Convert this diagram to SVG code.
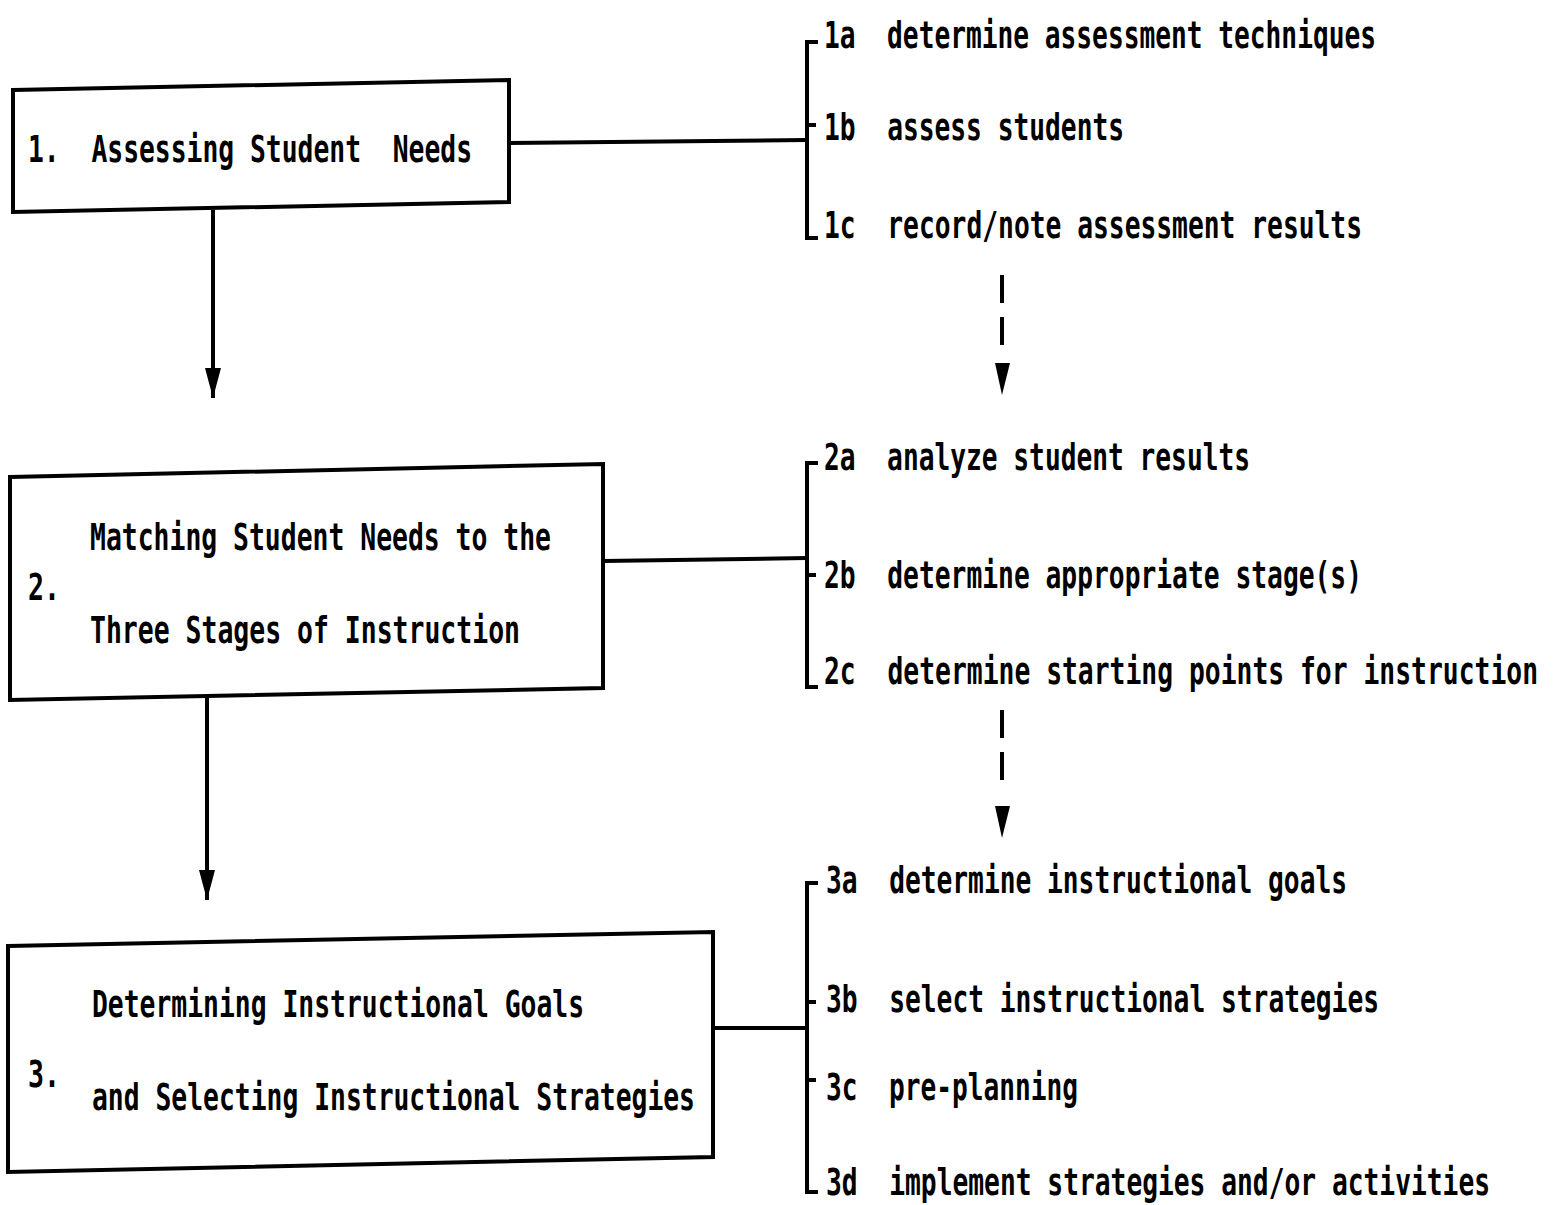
<svg xmlns="http://www.w3.org/2000/svg" width="1557" height="1205" viewBox="0 0 1557 1205" xml:space="preserve">
  <style>
    .box { fill: none; stroke: #000; stroke-width: 4; stroke-linejoin: miter; }
    .ln { fill: none; stroke: #000; stroke-width: 4; }
    .br { fill: none; stroke: #000; stroke-width: 4; }
    .dash { fill: none; stroke: #000; stroke-width: 4; stroke-dasharray: 28 14; }
    .t { font-family: "DejaVu Sans Mono", "Liberation Mono", monospace; font-weight: bold; font-size: 38px; fill: #000; white-space: pre; }
  </style>
  <defs>
    <!-- narrow solid arrowhead, drawn pointing along +x -->
    <marker id="head" viewBox="0 0 30 16" refX="30" refY="8" markerWidth="30" markerHeight="16" markerUnits="userSpaceOnUse" orient="auto">
      <path d="M0,0 L30,8 L0,16 Z" fill="#000"/>
    </marker>
  </defs>
  <rect width="1557" height="1205" fill="#fff"/>

  <!-- main stages -->
  <g id="stage1">
    <polygon class="box" points="13,90 509,80 509,202 13,212"/>
    <text class="t" x="28" y="162" textLength="444" lengthAdjust="spacingAndGlyphs">1.  Assessing Student  Needs</text>
  </g>
  <g id="stage2">
    <polygon class="box" points="10,477 603,464 603,688 10,700"/>
    <text class="t" x="28" y="600" textLength="32" lengthAdjust="spacingAndGlyphs">2.</text>
    <text class="t" x="90" y="550" textLength="461" lengthAdjust="spacingAndGlyphs">Matching Student Needs to the</text>
    <text class="t" x="90" y="643" textLength="430" lengthAdjust="spacingAndGlyphs">Three Stages of Instruction</text>
  </g>
  <g id="stage3">
    <polygon class="box" points="8,946 713,932 713,1157 8,1172"/>
    <text class="t" x="28" y="1087" textLength="32" lengthAdjust="spacingAndGlyphs">3.</text>
    <text class="t" x="92" y="1017" textLength="492" lengthAdjust="spacingAndGlyphs">Determining Instructional Goals</text>
    <text class="t" x="92" y="1110" textLength="603" lengthAdjust="spacingAndGlyphs">and Selecting Instructional Strategies</text>
  </g>

  <!-- sub-steps of stage 1 -->
  <g id="steps1">
    <text class="t" x="824" y="48" textLength="552" lengthAdjust="spacingAndGlyphs">1a  determine assessment techniques</text>
    <text class="t" x="824" y="140" textLength="300" lengthAdjust="spacingAndGlyphs">1b  assess students</text>
    <text class="t" x="824" y="238" textLength="538" lengthAdjust="spacingAndGlyphs">1c  record/note assessment results</text>
  </g>
  <!-- sub-steps of stage 2 -->
  <g id="steps2">
    <text class="t" x="824" y="470" textLength="426" lengthAdjust="spacingAndGlyphs">2a  analyze student results</text>
    <text class="t" x="824" y="588" textLength="538" lengthAdjust="spacingAndGlyphs">2b  determine appropriate stage(s)</text>
    <text class="t" x="824" y="684" textLength="714" lengthAdjust="spacingAndGlyphs">2c  determine starting points for instruction</text>
  </g>
  <!-- sub-steps of stage 3 -->
  <g id="steps3">
    <text class="t" x="826" y="893" textLength="521" lengthAdjust="spacingAndGlyphs">3a  determine instructional goals</text>
    <text class="t" x="826" y="1012" textLength="553" lengthAdjust="spacingAndGlyphs">3b  select instructional strategies</text>
    <text class="t" x="826" y="1100" textLength="252" lengthAdjust="spacingAndGlyphs">3c  pre-planning</text>
    <text class="t" x="826" y="1195" textLength="664" lengthAdjust="spacingAndGlyphs">3d  implement strategies and/or activities</text>
  </g>

  <g id="connectors">
    <!-- stage to stage -->
    <line class="ln" x1="213" y1="210" x2="213" y2="398" marker-end="url(#head)"/>
    <line class="ln" x1="207" y1="694" x2="207" y2="900" marker-end="url(#head)"/>
    <!-- stage to bracket -->
    <line class="ln" x1="509" y1="143" x2="807" y2="140"/>
    <line class="ln" x1="603" y1="561" x2="807" y2="558"/>
    <line class="ln" x1="713" y1="1028" x2="807" y2="1028"/>
    <!-- brackets -->
    <path class="br" d="M818,42 H807 V238 H818 M807,125 H816"/>
    <path class="br" d="M818,463 H807 V687 H818 M807,575 H816"/>
    <path class="br" d="M818,883 H807 V1192 H818 M807,1002 H816 M807,1080 H816"/>
    <!-- dashed links between sub-step lists -->
    <line class="dash" x1="1002" y1="275" x2="1002" y2="352"/>
    <path d="M995,363 L1010,363 L1002,395 Z" fill="#000"/>
    <line class="dash" x1="1002" y1="710" x2="1002" y2="790"/>
    <path d="M995,806 L1010,806 L1002,838 Z" fill="#000"/>
  </g>
</svg>
